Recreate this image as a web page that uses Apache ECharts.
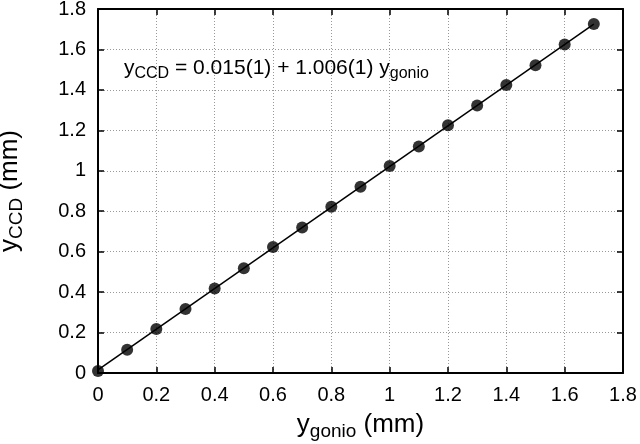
<!DOCTYPE html>
<html><head><meta charset="utf-8">
<script src="https://cdn.jsdelivr.net/npm/echarts@6/dist/echarts.min.js"></script>
<style>html,body{margin:0;padding:0;background:#fff}#c{width:640px;height:444px}</style>
</head><body><div id="c"></div>
<script>
const xValues = [0, 0.1, 0.2, 0.3, 0.4, 0.5, 0.6, 0.7, 0.8, 0.9, 1.0, 1.1, 1.2, 1.3, 1.4, 1.5, 1.6, 1.7];
const yValues = [0.01, 0.115, 0.218, 0.317, 0.418, 0.518, 0.623, 0.72, 0.822, 0.921, 1.024, 1.12, 1.225, 1.323, 1.424, 1.522, 1.625, 1.726];
const fitX = [0, 1.7];
const fitY = [0.015, 1.725];
const ticks = [0, 0.2, 0.4, 0.6, 0.8, 1, 1.2, 1.4, 1.6, 1.8];

const FONT = 'Liberation Sans, Arial, sans-serif';
const pts = xValues.map((x, i) => [x, yValues[i]]);
const fit = fitX.map((x, i) => [x, fitY[i]]);
const fmt = v => String(Math.round(v * 10) / 10);

const baseAxis = {
  min: 0, max: 1.8, interval: 0.2,
  axisLine: { show: true, onZero: false, lineStyle: { color: '#000', width: 2 } },
  axisTick: { show: true, inside: true, length: 6, lineStyle: { color: '#000', width: 1.5 } },
};
const chart = echarts.init(document.getElementById('c'), null, { renderer: 'canvas' });
chart.setOption({
  backgroundColor: '#fff',
  animation: false,
  grid: { left: 98, top: 9, right: 17, bottom: 71, containLabel: false, outerBoundsMode: 'none' },
  xAxis: [
    Object.assign({}, baseAxis, {
      type: 'value', position: 'bottom',
      axisLabel: { color: '#000', fontSize: 20, fontFamily: FONT, margin: 12, formatter: fmt },
      splitLine: { show: true, lineStyle: { color: '#999', type: [1, 2], width: 1 } },
      name: '{a|y}{b|gonio}{a| (mm)}', nameLocation: 'middle', nameGap: 36,
      nameTextStyle: { rich: {
        a: { fontSize: 26, fontFamily: FONT, color: '#000' },
        b: { fontSize: 19, fontFamily: FONT, color: '#000', padding: [13, 0, 0, 0] } } }
    }),
    Object.assign({}, baseAxis, {
      type: 'value', position: 'top', axisLabel: { show: false }, splitLine: { show: false }
    })
  ],
  yAxis: [
    Object.assign({}, baseAxis, {
      type: 'value', position: 'left',
      axisLabel: { color: '#000', fontSize: 20, fontFamily: FONT, margin: 12, formatter: fmt },
      splitLine: { show: true, lineStyle: { color: '#999', type: [1, 2], width: 1 } },
      name: '{a|y}{b|CCD}{a| (mm)}', nameLocation: 'middle', nameGap: 72, nameRotate: 90,
      nameTextStyle: { rich: {
        a: { fontSize: 26, fontFamily: FONT, color: '#000' },
        b: { fontSize: 19, fontFamily: FONT, color: '#000', padding: [13, 0, 0, 0] } } }
    }),
    Object.assign({}, baseAxis, {
      type: 'value', position: 'right', axisLabel: { show: false }, splitLine: { show: false }
    })
  ],
  graphic: [{
    type: 'text', left: 124, top: 58, z: 10,
    style: {
      text: '{a|y}{b|CCD}{a| = 0.015(1) + 1.006(1) y}{b|gonio}',
      rich: {
        a: { fontSize: 21, fontFamily: FONT, fill: '#000' },
        b: { fontSize: 16, fontFamily: FONT, fill: '#000', padding: [11, 0, 0, 0] }
      }
    }
  }],
  series: [
    { type: 'line', data: fit, symbol: 'none', lineStyle: { color: '#000', width: 1.5 }, z: 2 },
    { type: 'scatter', data: pts, symbol: 'circle', symbolSize: 12, itemStyle: { color: '#000' }, z: 3 }
  ]
});
</script></body></html>
